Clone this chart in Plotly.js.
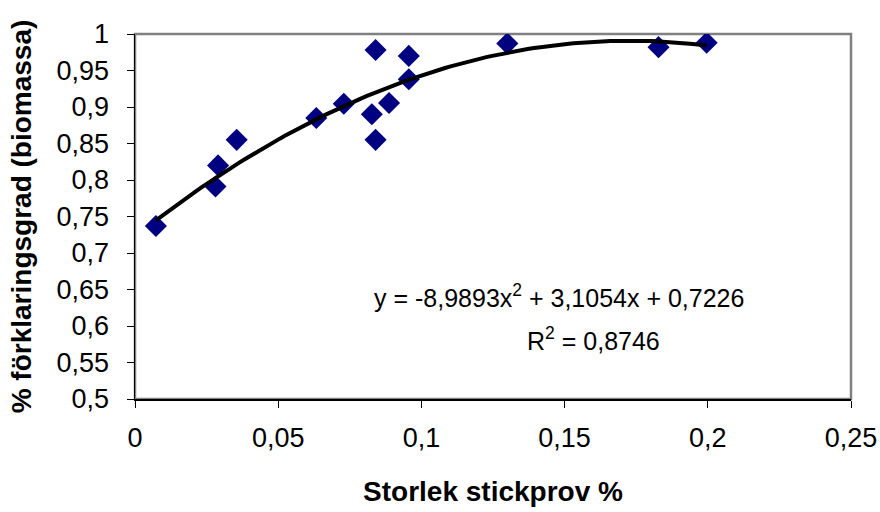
<!DOCTYPE html>
<html>
<head>
<meta charset="utf-8">
<script src="https://cdn.plot.ly/plotly-3.0.1.min.js"></script>
<style>
  html, body { margin: 0; padding: 0; background: #fff; }
  #chart { width: 880px; height: 512px; }
</style>
</head>
<body>
<div id="chart"></div>
<script>
// Sample size (%) vs. explained share of biomass
const sampleSize = [0.0073, 0.0281, 0.0290, 0.0355, 0.0633, 0.0729, 0.0827, 0.0840, 0.0840, 0.0887, 0.0956, 0.0956, 0.1300, 0.1828, 0.1996];
const explained  = [0.737, 0.791, 0.820, 0.855, 0.885, 0.9045, 0.890, 0.978, 0.855, 0.9055, 0.970, 0.938, 0.987, 0.982, 0.988];

// Second-order polynomial trendline: y = a*x^2 + b*x + c
const trendCoef = [-8.9893, 3.1054, 0.7226];
const trendR2 = 0.8746;

const xTicks = [0, 0.05, 0.1, 0.15, 0.2, 0.25];
const xTickText = ['0', '0,05', '0,1', '0,15', '0,2', '0,25'];
const yTicks = [0.5, 0.55, 0.6, 0.65, 0.7, 0.75, 0.8, 0.85, 0.9, 0.95, 1];
const yTickText = ['0,5', '0,55', '0,6', '0,65', '0,7', '0,75', '0,8', '0,85', '0,9', '0,95', '1'];

const fmt = (v, d) => v.toFixed(d).replace('.', ',');

// Trendline drawn over the data range
const xMin = Math.min(...sampleSize), xMax = Math.max(...sampleSize);
const trendX = [], trendY = [];
const steps = 120;
for (let i = 0; i <= steps; i++) {
  const x = xMin + (xMax - xMin) * i / steps;
  trendX.push(x);
  trendY.push(trendCoef[0] * x * x + trendCoef[1] * x + trendCoef[2]);
}

const font = 'Liberation Sans, Arial, sans-serif';

const traces = [
  {
    x: sampleSize, y: explained, type: 'scatter', mode: 'markers',
    marker: { symbol: 'diamond', size: 17, color: '#000080', line: { width: 0 } },
    hoverinfo: 'x+y'
  },
  {
    x: trendX, y: trendY, type: 'scatter', mode: 'lines',
    line: { color: '#000000', width: 4 },
    hoverinfo: 'skip'
  }
];

const eqText = 'y = ' + fmt(trendCoef[0], 4) + 'x<sup>2</sup> + ' + fmt(trendCoef[1], 4) + 'x + ' + fmt(trendCoef[2], 4);
const r2Text = 'R<sup>2</sup> = ' + fmt(trendR2, 4);

const layout = {
  width: 880, height: 512,
  margin: { l: 135, r: 29, t: 34, b: 113 },
  paper_bgcolor: '#ffffff', plot_bgcolor: '#ffffff',
  showlegend: false,
  font: { family: font, size: 27, color: '#000' },
  xaxis: {
    range: [0, 0.25], tickvals: xTicks, ticktext: xTickText,
    showgrid: false, zeroline: false,
    showline: true, linecolor: '#000', linewidth: 1.5,
    ticks: 'outside', ticklen: 7, tickwidth: 1, tickcolor: '#000',
    ticklabelstandoff: 7,
    tickfont: { family: font, size: 27 },
    title: { text: '<b>Storlek stickprov %</b>', font: { family: font, size: 28 }, standoff: 29 }
  },
  yaxis: {
    range: [0.5, 1], tickvals: yTicks, ticktext: yTickText,
    showgrid: false, zeroline: false,
    showline: true, linecolor: '#000', linewidth: 1.5,
    ticks: 'outside', ticklen: 7, tickwidth: 1, tickcolor: '#000',
    ticklabelstandoff: 12,
    tickfont: { family: font, size: 27 },
    title: { text: '<b>% förklaringsgrad (biomassa)</b>', font: { family: font, size: 28 }, standoff: 16 }
  },
  shapes: [
    { type: 'rect', xref: 'paper', yref: 'paper', x0: 0, x1: 1, y0: 0, y1: 1,
      line: { color: '#808080', width: 2.5 }, layer: 'below' }
  ],
  annotations: [
    { xref: 'x', yref: 'y', x: 0.1482, y: 0.641, text: eqText, showarrow: false,
      font: { family: font, size: 25 }, xanchor: 'center', yanchor: 'middle' },
    { xref: 'x', yref: 'y', x: 0.1602, y: 0.582, text: r2Text, showarrow: false,
      font: { family: font, size: 25 }, xanchor: 'center', yanchor: 'middle' }
  ]
};

Plotly.newPlot('chart', traces, layout, { displayModeBar: false, staticPlot: true });
</script>
</body>
</html>
